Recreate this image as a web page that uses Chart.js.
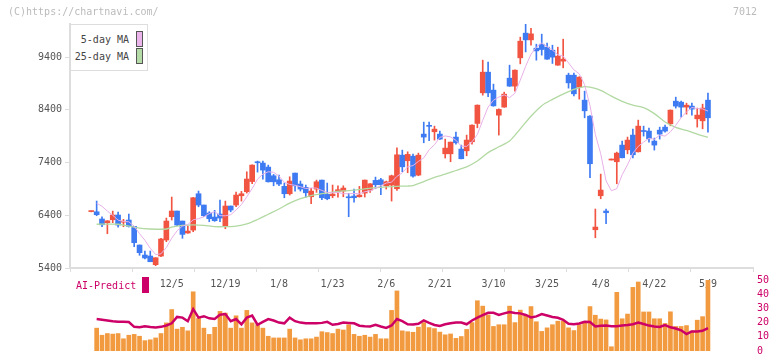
<!DOCTYPE html>
<html>
<head>
<meta charset="utf-8">
<script src="https://cdn.jsdelivr.net/npm/chart.js@4.4.1/dist/chart.umd.min.js"></script>
<style>
  html, body { margin: 0; padding: 0; background: #fff; }
  #wrap { position: relative; width: 772px; height: 361px; overflow: hidden;
          font-family: 'DejaVu Sans Mono', monospace; font-size: 10px; }
  canvas { position: absolute; left: 0; }
  #cA { top: 0; }
  #cB { top: 270px; }
  .t { position: absolute; white-space: nowrap; line-height: 12px; }
  .sw { position: absolute; box-sizing: border-box; border: 1px solid #555; width: 7px; height: 16px; }
</style>
</head>
<body>
<div id="wrap">
  <canvas id="cA" width="772" height="300"></canvas>
  <canvas id="cB" width="772" height="91"></canvas>

  <div class="t" style="left:8px;top:6px;color:#bbb;">(C)https://chartnavi.com/</div>
  <div class="t" style="left:733px;top:6px;color:#bbb;">7012</div>

  <div style="position:absolute;left:70px;top:24px;width:78px;height:47px;box-sizing:border-box;border:1px solid #ddd;background:#fff;"></div>
  <div class="t" style="left:70px;width:59px;text-align:right;top:34px;color:#444;">5-day MA</div>
  <div class="sw" style="left:136px;top:31px;background:#ebb5eb;"></div>
  <div class="t" style="left:70px;width:59px;text-align:right;top:51px;color:#444;">25-day MA</div>
  <div class="sw" style="left:136px;top:48px;background:#b5dca6;"></div>

  <div class="t" style="left:76px;top:280px;color:#cc0066;">AI-Predict</div>
  <div style="position:absolute;left:142px;top:277px;width:7px;height:16px;background:#cc0066;"></div>
</div>

<script>
/* daily prices, 11/14 .. 5/9 (index = trading day) */
const opens  = [6470,6467,6330,6260,6316,6405,6270,6310,6190,5836,5646,5627,5463,5627,5931,6373,6481,6291,6064,6120,
                6809,6595,6443,6367,6424,6196,6576,6595,6771,6847,7040,7416,7391,7315,7150,7074,6949,6809,7201,6993,
                6930,6752,6898,7068,6797,6771,6847,6860,6752,6765,6752,6822,6879,7063,7074,6960,6974,6904,7541,7435,
                7522,7163,7941,8095,7985,7941,7567,7567,7884,7656,7624,7795,8143,8724,9116,8775,8300,8453,9002,8851,
                9388,9856,9729,9571,9647,9590,9533,9249,9325,9059,9059,8832,8585,8282,6126,6771,6481,7449,7416,7732,
                7643,7922,7605,8000,7998,7808,8016,8073,8136,8566,8547,8453,8472,8231,8193,8585];
const highs  = [6485,6670,6370,6300,6480,6462,6323,6424,6190,5836,5722,5722,5595,5963,6348,6746,6481,6291,6196,6740,
                6860,6595,6468,6494,6689,6670,6576,6841,6854,7226,7360,7429,7429,7353,7176,7163,7012,7131,7201,7050,
                6974,6911,7068,7068,7012,6974,6960,6960,6816,6898,6949,7070,7000,7125,7100,7050,7163,7681,7637,7605,
                7560,7580,8168,8168,8092,7998,7846,7790,7979,7732,7922,8115,8495,9344,9306,8889,8420,8737,9249,9160,
                9780,10026,9950,9647,9837,9666,9628,9590,9742,9097,9097,9030,8756,8290,6519,7182,6519,7449,7599,7808,
                7884,8035,8206,8092,8054,7865,8073,8111,8400,8642,8566,8528,8528,8434,8509,8718];
const lows   = [6465,6392,6185,6050,6260,6177,6183,6177,5804,5641,5571,5519,5444,5614,5899,6310,6202,5963,6058,6088,
                6562,6373,6278,6285,6278,6145,6467,6562,6670,6822,7002,7220,7087,7030,6960,6960,6733,6784,6860,6860,
                6740,6619,6835,6695,6695,6733,6746,6752,6373,6651,6745,6746,6835,6904,6790,6898,6670,6873,7226,7207,
                7125,7150,7776,7814,7827,7840,7486,7416,7751,7470,7529,7751,8060,8680,8650,8470,7922,8450,8845,8756,
                9274,9500,9628,9344,9439,9360,9281,9245,9198,8813,8667,8604,8250,7112,5974,6714,6240,7449,6998,7490,
                7567,7491,7600,7903,7789,7637,7846,7979,8098,8434,8263,8320,8301,8073,8041,7979];
const closes = [6480,6411,6220,6295,6405,6215,6280,6190,5880,5690,5590,5519,5595,5950,6291,6481,6215,6038,6101,6733,
                6595,6392,6335,6297,6348,6576,6500,6784,6809,7088,7353,7397,7258,7036,7036,6993,6809,7050,6960,6898,
                6828,6860,7036,6733,6714,6803,6885,6917,6733,6733,6784,7068,6998,6980,6980,7036,7150,7548,7320,7556,
                7144,7541,7884,8088,8035,7846,7675,7789,7776,7473,7827,8111,8490,9116,8724,8477,8409,8699,8851,9154,
                9704,9729,9843,9520,9546,9363,9401,9420,9363,8913,8705,9021,8383,7378,6177,6879,6449,7449,7580,7492,
                7827,7548,8092,7990,7852,7732,7941,7998,8396,8472,8453,8490,8415,8301,8434,8250];

/* moving averages */
const ma5 = [null,6630,6570,6480,6400,6309,6283,6277,6194,6051,5926,5774,5655,5669,5789,5967,6106,6195,6225,6314,
             6336,6372,6431,6470,6393,6390,6411,6501,6603,6751,6907,7086,7181,7226,7216,7144,7026,6985,6970,6942,
             6909,6919,6916,6871,6834,6829,6834,6810,6810,6814,6810,6847,6863,6913,6962,7012,7029,7139,7207,7322,
             7344,7422,7489,7643,7738,7879,7906,7887,7824,7712,7708,7795,7935,8203,8454,8584,8643,8685,8632,8718,
             8963,9227,9456,9590,9668,9600,9535,9450,9419,9292,9160,9084,8877,8480,7933,7568,7053,6866,6906,7169,
             7359,7578,7708,7790,7862,7843,7921,7903,7984,8108,8252,8362,8445,8426,8419,8378];
const ma25Day = [1,3,5,7,9,11,13,14,15,17,19,21,23,25,27,29,31,33,35,37,39,41,43,45,47,49,51,53,55,57,59,60,
                 62,64,66,68,70,72,74,76,78,80,82,84,86,88,90,92,93,95,97,99,101,103,105,107,109,111,113,115];
const ma25Val = [6230,6232,6230,6195,6155,6140,6135,6140,6175,6210,6220,6210,6185,6185,6195,6235,6320,6420,6520,6630,
                 6715,6775,6810,6840,6862,6878,6900,6925,6940,6950,6955,6965,7040,7120,7180,7250,7320,7430,7590,7700,
                 7810,8040,8280,8480,8600,8700,8790,8840,8830,8770,8660,8560,8490,8445,8330,8170,8070,8010,7940,7878];

/* lower panel: volume (relative) and AI-Predict score */
const volume = [null,16.1,11.1,12.3,11.9,12.3,8.6,11.1,11.7,10.4,7.3,7.9,9.2,12.3,19.8,29.2,15.4,16.7,14.2,41.7,
                22.9,16.1,11.7,16.7,27.9,26.7,16.1,24.8,16.1,28.6,19.8,18.5,16.1,10.4,9.2,9.2,9.2,15.4,9.2,7.9,
                8.6,8.6,9.8,13.6,13.0,12.3,15.4,14.8,18.5,11.7,10.4,11.1,9.8,11.7,8.6,8.6,28.6,42.3,14.2,13.6,
                13.2,16.8,20.0,16.5,15.8,13.3,11.4,12.0,8.9,10.2,15.2,20.0,35.4,31.6,25.4,17.3,18.5,18.5,31.6,20.0,
                28.8,25.2,31.3,20.6,13.8,16.3,18.5,21.0,21.0,16.3,14.4,18.5,20.6,31.3,25.2,22.5,21.9,3.0,41.3,22.7,
                26.0,44.8,48.6,27.5,27.5,22.7,22.7,19.4,27.6,17.3,17.3,17.9,14.2,21.7,24.2,50.0];
const aiPredict = [null,22.5,22.0,21.5,21.0,20.6,20.6,20.4,17.0,16.8,17.5,16.9,16.5,17.0,18.0,19.5,24.0,23.5,21.0,29.5,
                   23.5,24.5,23.0,22.5,25.5,26.0,21.0,22.5,18.8,23.5,25.0,18.5,20.5,22.5,21.5,20.0,19.5,23.5,21.0,20.0,
                   19.5,19.5,19.5,19.8,20.5,18.5,19.0,20.0,19.8,19.5,17.8,17.5,17.3,18.5,17.3,16.3,18.0,22.5,21.0,18.8,
                   18.7,19.2,21.5,19.8,18.3,17.7,18.8,19.5,20.1,20.0,18.8,21.5,23.5,25.2,26.9,26.9,25.4,26.5,27.5,26.7,
                   26.5,25.4,23.6,24.4,26.0,25.0,24.0,23.4,22.0,19.2,18.8,19.4,20.6,20.4,17.3,17.7,17.9,17.5,17.5,17.9,
                   18.3,18.8,20.1,19.0,17.9,17.3,16.9,18.3,16.7,15.8,14.6,11.9,13.8,13.8,14.2,16.1];

/* x-axis date labels (trading-day index) */
const labelDay  = [15,25,35,45,55,65,75,85,95,105,115];
const labelText = ['12/5','12/19','1/8','1/23','2/6','2/21','3/10','3/25','4/8','4/22','5/9'];
const priceTicks = [5400,6400,7400,8400,9400];
const aiTicks = [0,10,20,30,40,50];

const X_MIN = -3.97, X_MAX = 123.4;
const RED = '#f25442', BLUE = '#3e7bf2';
const FONT = { family: 'DejaVu Sans Mono', size: 10 };

Chart.defaults.font.family = FONT.family;
Chart.defaults.font.size = FONT.size;
Chart.defaults.animation = false;

const days = opens.map((_, i) => i);
const candleColor = days.map(i => closes[i] >= opens[i] ? RED : BLUE);
const pts = (arr) => arr.map((v, i) => ({ x: i, y: v }));

new Chart(document.getElementById('cA'), {
  type: 'bar',
  data: {
    datasets: [
      { type: 'line', label: '5-day MA', data: pts(ma5), borderColor: '#e8b0e8', borderWidth: 1,
        pointRadius: 0, tension: 0, order: 0 },
      { type: 'line', label: '25-day MA', data: ma25Day.map((d, k) => ({ x: d, y: ma25Val[k] })),
        borderColor: '#b2d9a2', borderWidth: 1.3, pointRadius: 0, tension: 0.3, order: 0 },
      { label: 'wick', data: days.map(i => ({ x: i, y: [lows[i], highs[i]] })),
        backgroundColor: candleColor, barThickness: 1, minBarLength: 1, grouped: false, order: 2 },
      { label: 'body', data: days.map(i => ({ x: i, y: [opens[i], closes[i]] })),
        backgroundColor: candleColor, barThickness: 5, minBarLength: 1, grouped: false, order: 1 }
    ]
  },
  options: {
    responsive: false,
    layout: { padding: { left: 0, right: 19, top: 24, bottom: 0 } },
    plugins: { legend: { display: false }, tooltip: { enabled: false } },
    scales: {
      x: {
        type: 'linear', min: X_MIN, max: X_MAX, offset: false, weight: 0,
        afterBuildTicks: s => { s.ticks = Array.from({ length: 12 }, (_, k) => ({ value: X_MIN + k * (X_MAX - X_MIN) / 11 })); },
        ticks: { display: false },
        grid: { drawOnChartArea: false, offset: false, color: '#ddd', tickLength: 4 },
        border: { color: '#ddd', width: 2 },
        afterFit: s => { s.height = 4; }
      },
      x2: {
        type: 'linear', position: 'bottom', min: X_MIN, max: X_MAX, offset: false, weight: 1,
        afterBuildTicks: s => { s.ticks = labelDay.map(v => ({ value: v })); },
        ticks: { autoSkip: false, maxRotation: 0, padding: 6, color: '#555', font: FONT,
                 callback: (v, k) => labelText[k] },
        grid: { display: false, drawTicks: false },
        border: { display: false },
        afterFit: s => { s.height = 28; }
      },
      y: {
        min: 5400, max: 10030,
        afterBuildTicks: s => { s.ticks = priceTicks.map(v => ({ value: v })); },
        ticks: { color: '#555', padding: 3, font: FONT, callback: v => String(v) },
        grid: { drawOnChartArea: false, color: '#ddd', tickLength: 5 },
        border: { color: '#ddd', width: 2 },
        afterFit: s => { s.width = 70; }
      }
    }
  }
});

new Chart(document.getElementById('cB'), {
  type: 'bar',
  data: {
    datasets: [
      { type: 'line', label: 'AI-Predict', data: pts(aiPredict), yAxisID: 'y', borderColor: '#cc0066',
        borderWidth: 2.5, pointRadius: 0, tension: 0, order: 0 },
      { label: 'volume', data: pts(volume), yAxisID: 'yv', backgroundColor: '#f29a40',
        barThickness: 4, grouped: false, order: 1 }
    ]
  },
  options: {
    responsive: false,
    layout: { padding: { left: 70, right: 0, top: 8, bottom: 3 } },
    plugins: { legend: { display: false }, tooltip: { enabled: false } },
    scales: {
      x: { type: 'linear', min: X_MIN, max: X_MAX, offset: false, display: false, grid: { offset: false } },
      y: {
        position: 'right', min: 0, max: 50,
        afterBuildTicks: s => { s.ticks = aiTicks.map(v => ({ value: v })); },
        ticks: { color: '#cc0066', padding: 4, font: FONT, autoSkip: false, callback: v => String(v) },
        grid: { display: false, drawTicks: false },
        border: { display: false },
        afterFit: s => { s.width = 19; }
      },
      yv: { display: false, min: 0, max: 50 }
    }
  }
});
</script>
</body>
</html>
